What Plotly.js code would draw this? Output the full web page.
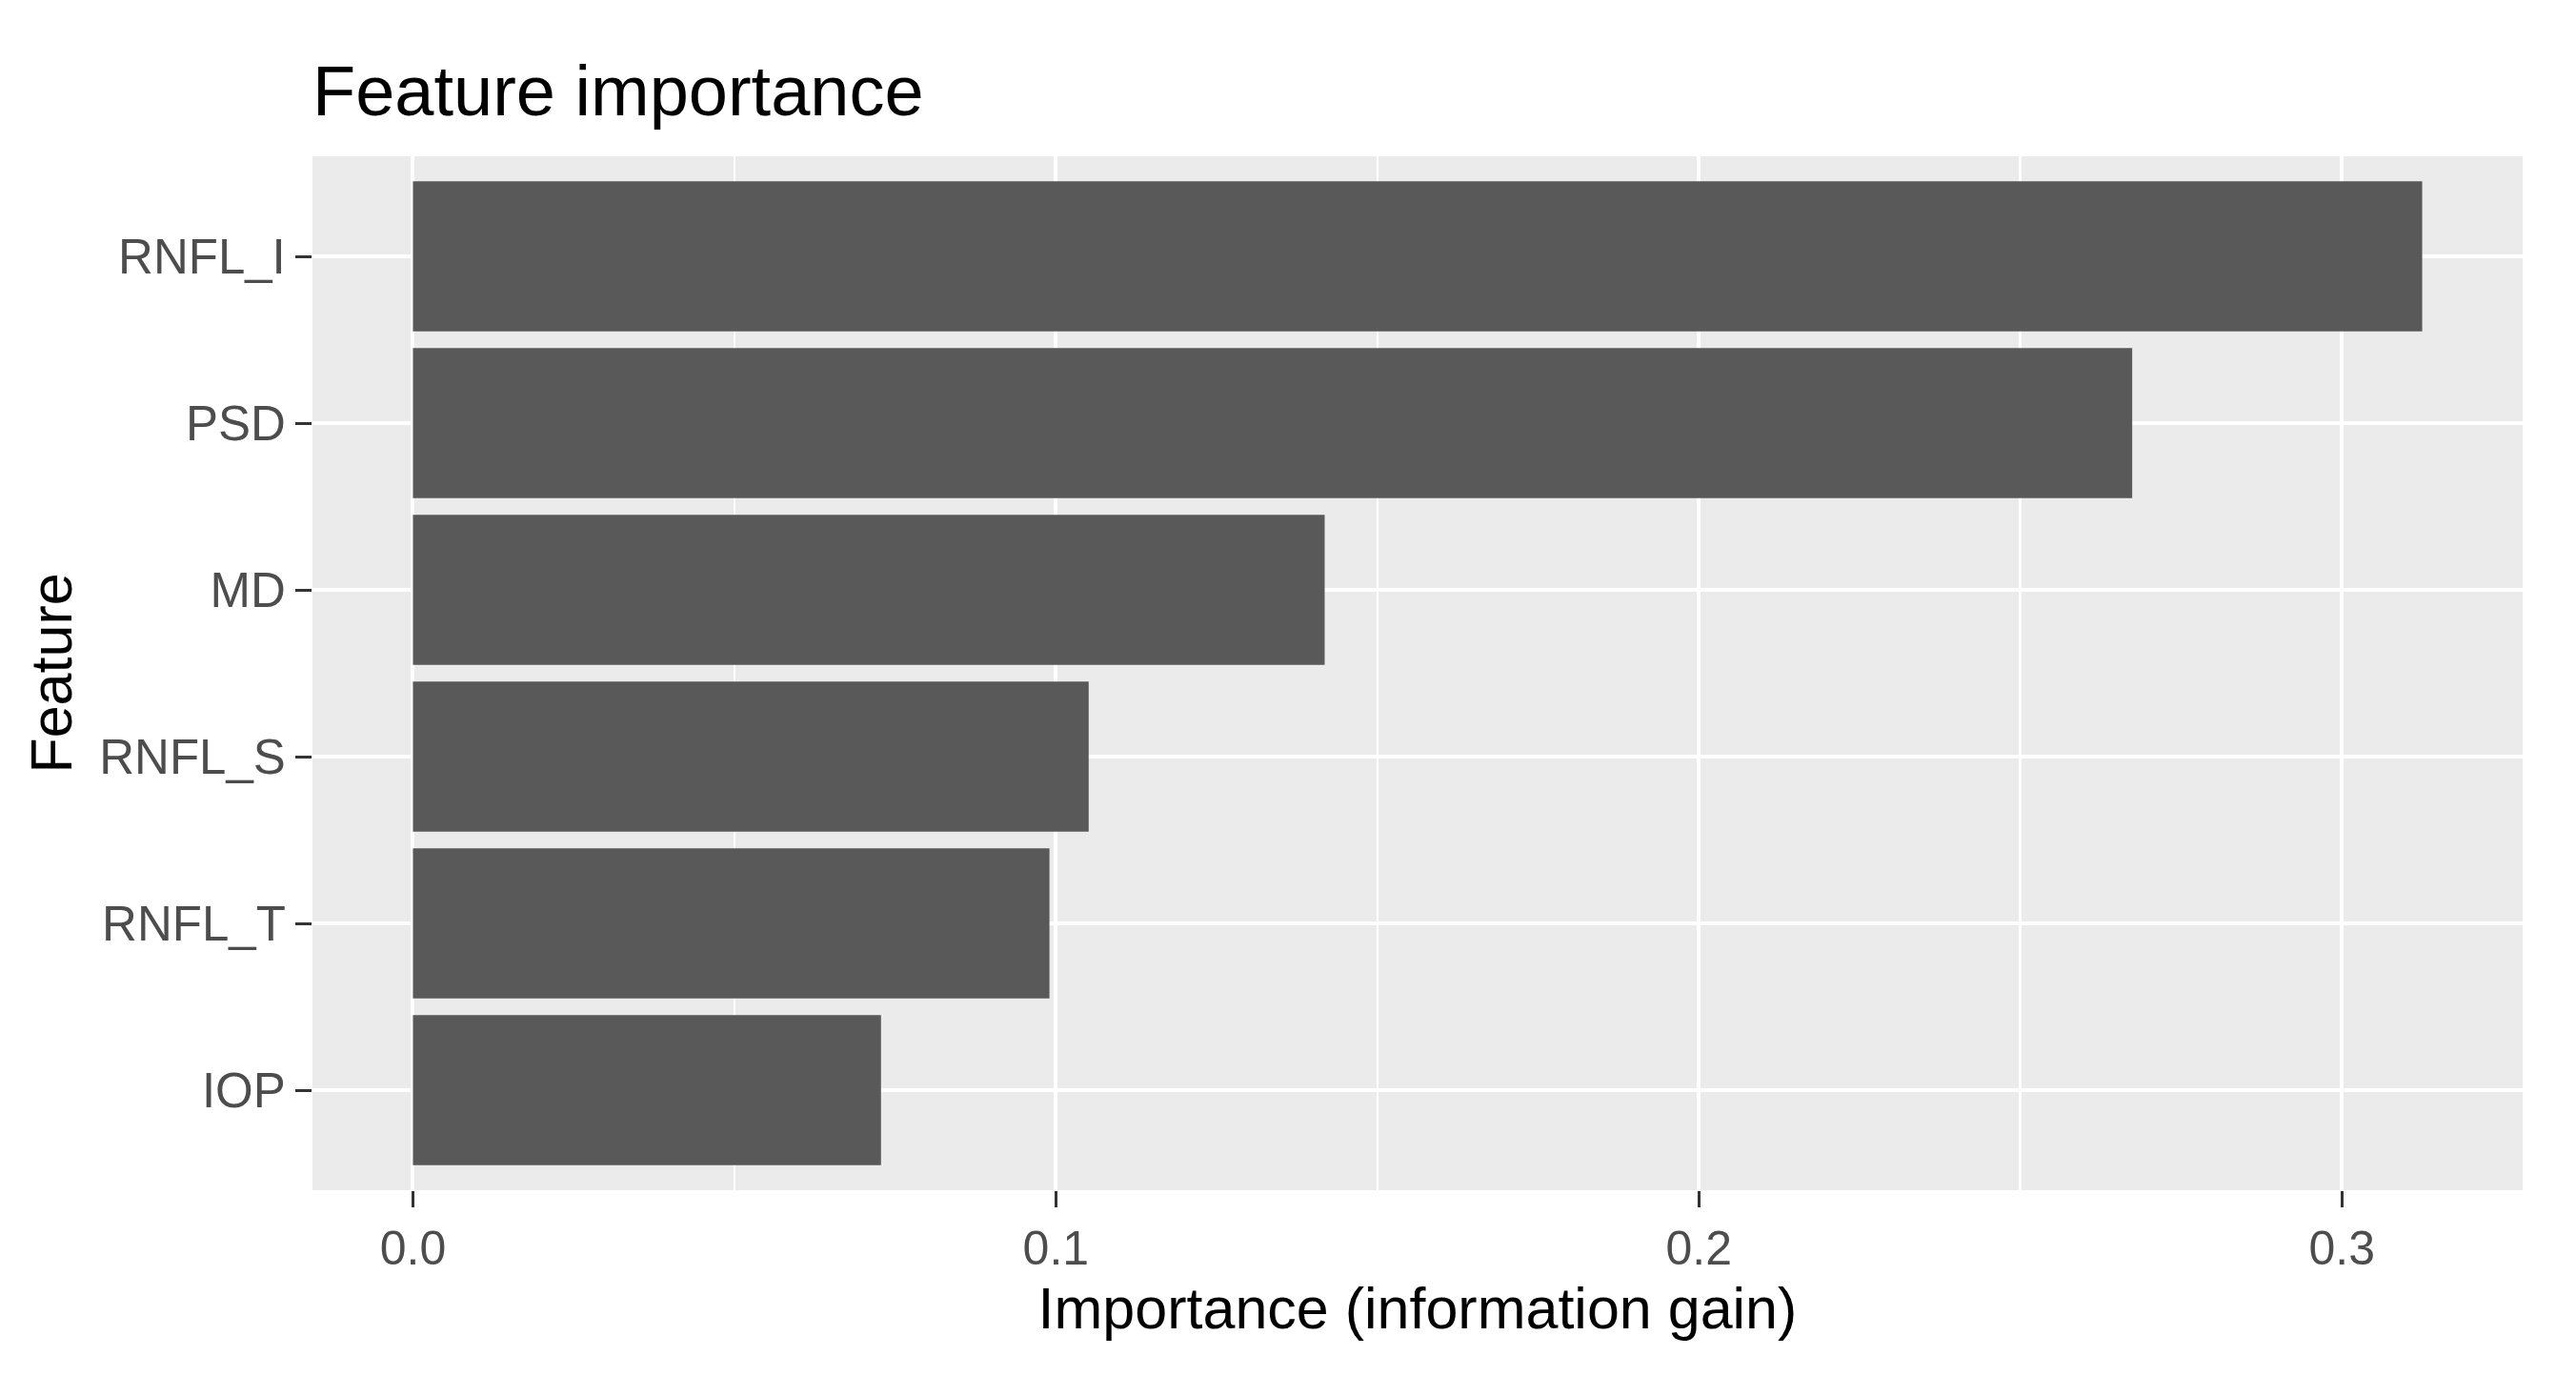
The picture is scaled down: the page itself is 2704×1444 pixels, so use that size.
<!DOCTYPE html>
<html>
<head>
<meta charset="utf-8">
<script src="https://cdn.plot.ly/plotly-3.0.1.min.js"></script>
<style>html,body{margin:0;padding:0;background:#fff;}#chart{width:2704px;height:1444px;}</style>
</head>
<body>
<div id="chart"></div>
<script>
// Data (ordered bottom to top as drawn)
const features = ["IOP", "RNFL_T", "RNFL_S", "MD", "PSD", "RNFL_I"];
const importance = [0.0728, 0.0990, 0.1051, 0.1418, 0.2674, 0.3125];
const xTickVals = [0.0, 0.1, 0.2, 0.3];
const xTickText = ["0.0", "0.1", "0.2", "0.3"];

const fontFam = "'Liberation Sans', Arial, sans-serif";
const maxV = Math.max.apply(null, importance);

const trace = {
  type: "bar",
  orientation: "h",
  x: importance,
  y: features,
  marker: {color: "#595959", line: {width: 0}},
  width: 0.9,
  hoverinfo: "x+y"
};

const layout = {
  width: 2704,
  height: 1444,
  paper_bgcolor: "#ffffff",
  plot_bgcolor: "#EBEBEB",
  margin: {l: 328, r: 56, t: 164, b: 195, pad: 0},
  showlegend: false,
  title: {
    text: "Feature importance",
    font: {family: fontFam, size: 74, color: "#000000"},
    x: 0, xanchor: "left", xref: "paper",
    y: 1 - 95 / 1444, yanchor: "middle", yref: "container"
  },
  xaxis: {
    range: [-0.05 * maxV, 1.05 * maxV],
    tickvals: xTickVals,
    ticktext: xTickText,
    ticks: "outside",
    ticklen: 17,
    tickwidth: 3,
    tickcolor: "#333333",
    tickfont: {family: fontFam, size: 50, color: "#4D4D4D"},
    showgrid: true,
    gridcolor: "#ffffff",
    gridwidth: 4,
    zeroline: false,
    showline: false,
    minor: {dtick: 0.05, tick0: 0, showgrid: true, gridcolor: "#ffffff", gridwidth: 2.5, ticks: ""},
    title: {text: "Importance (information gain)", font: {family: fontFam, size: 61, color: "#000000"}, standoff: 14},
    automargin: false
  },
  yaxis: {
    type: "category",
    categoryorder: "array",
    categoryarray: features,
    range: [-0.6, features.length - 0.4],
    ticks: "outside",
    ticklen: 17,
    tickwidth: 3,
    tickcolor: "#333333",
    tickfont: {family: fontFam, size: 51, color: "#4D4D4D"},
    showgrid: true,
    gridcolor: "#ffffff",
    gridwidth: 4,
    zeroline: false,
    showline: false,
    title: {text: "Feature", font: {family: fontFam, size: 61, color: "#000000"}, standoff: 8},
    automargin: false
  },
  bargap: 0.1
};

Plotly.newPlot("chart", [trace], layout, {displayModeBar: false, staticPlot: true});
</script>
</body>
</html>
